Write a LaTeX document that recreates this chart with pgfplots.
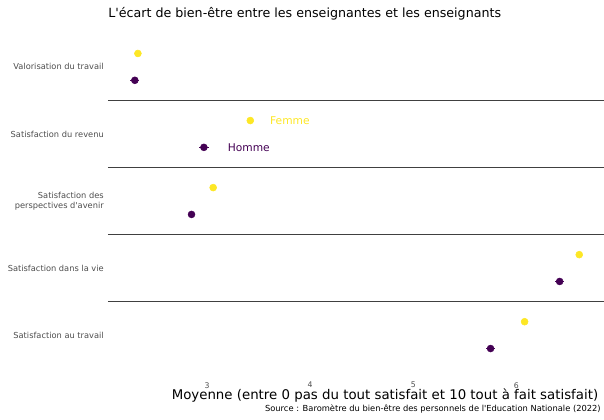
\documentclass[border=0pt]{standalone}
\usepackage{pgfplots}
\pgfplotsset{compat=1.18}
\usepackage{fontspec}
\setmainfont{DejaVu Sans}
\definecolor{fem}{HTML}{FDE725}
\definecolor{hom}{HTML}{440154}
\definecolor{lab}{HTML}{4D4D4D}
\begin{document}
\begin{tikzpicture}[x=0.75pt,y=0.75pt]
\path[use as bounding box] (-108,-47) rectangle (496,372);
\begin{axis}[
  at={(0,0)}, anchor=south west,
  scale only axis, width=372pt, height=256.5pt,
  xmin=2.04, xmax=6.85, ymin=-0.55, ymax=4.55,
  axis line style={draw=none}, tick style={draw=none},
  xtick={3,4,5,6}, ytick={0,1,2,3,4},
  yticklabels={Satisfaction au travail, Satisfaction dans la vie, {Satisfaction des\\perspectives d\textquotesingle avenir}, Satisfaction du revenu, Valorisation du travail},
  yticklabel style={align=right, font=\fontsize{6.2}{7.4}\selectfont, text=lab, inner sep=0pt, xshift=-3pt},
  xticklabel style={font=\fontsize{5.8}{7}\selectfont, text=lab, inner sep=0pt, yshift=-7.5pt},
  /pgf/number format/assume math mode=true,
  clip=false,
]
\addplot[draw=black!75, line width=0.9pt] coordinates {(2.04,0.5) (6.85,0.5)};
\addplot[draw=black!75, line width=0.9pt] coordinates {(2.04,1.5) (6.85,1.5)};
\addplot[draw=black!75, line width=0.9pt] coordinates {(2.04,2.5) (6.85,2.5)};
\addplot[draw=black!75, line width=0.9pt] coordinates {(2.04,3.5) (6.85,3.5)};
\addplot[only marks, mark=*, mark size=2.6pt, fem, mark options={draw=fem, fill=fem}] coordinates {
(6.08,0.2) (6.61,1.2) (3.06,2.2) (3.42,3.2) (2.33,4.2)};
\addplot[only marks, mark=*, mark size=2.6pt, hom, mark options={draw=hom, fill=hom},
  error bars/.cd, x dir=both, x explicit, error bar style={line width=1pt, hom}, error mark=none] coordinates {
(5.75,-0.2) +- (0.045,0) (6.42,0.8) +- (0.045,0) (2.85,1.8) +- (0.035,0) (2.97,2.8) +- (0.045,0) (2.30,3.8) +- (0.045,0)};
\node[anchor=west, text=fem, font=\fontsize{8}{9.6}\selectfont, inner sep=0pt] at (axis cs:3.61,3.2) {Femme};
\node[anchor=west, text=hom, font=\fontsize{8}{9.6}\selectfont, inner sep=0pt] at (axis cs:3.20,2.8) {Homme};
\end{axis}
\node[anchor=west, inner sep=0pt, font=\fontsize{9.5}{11}\selectfont] at (0,358) {L\textquotesingle écart de bien-être entre les enseignantes et les enseignants};
\node[anchor=center, inner sep=0pt, font=\fontsize{10}{12}\selectfont] at (277,-24) {Moyenne (entre 0 pas du tout satisfait et 10 tout à fait satisfait)};
\node[anchor=east, inner sep=0pt, font=\fontsize{6.25}{7.5}\selectfont] at (493,-37) {Source : Baromètre du bien-être des personnels de l\textquotesingle Education Nationale (2022)};
\end{tikzpicture}
\end{document}
